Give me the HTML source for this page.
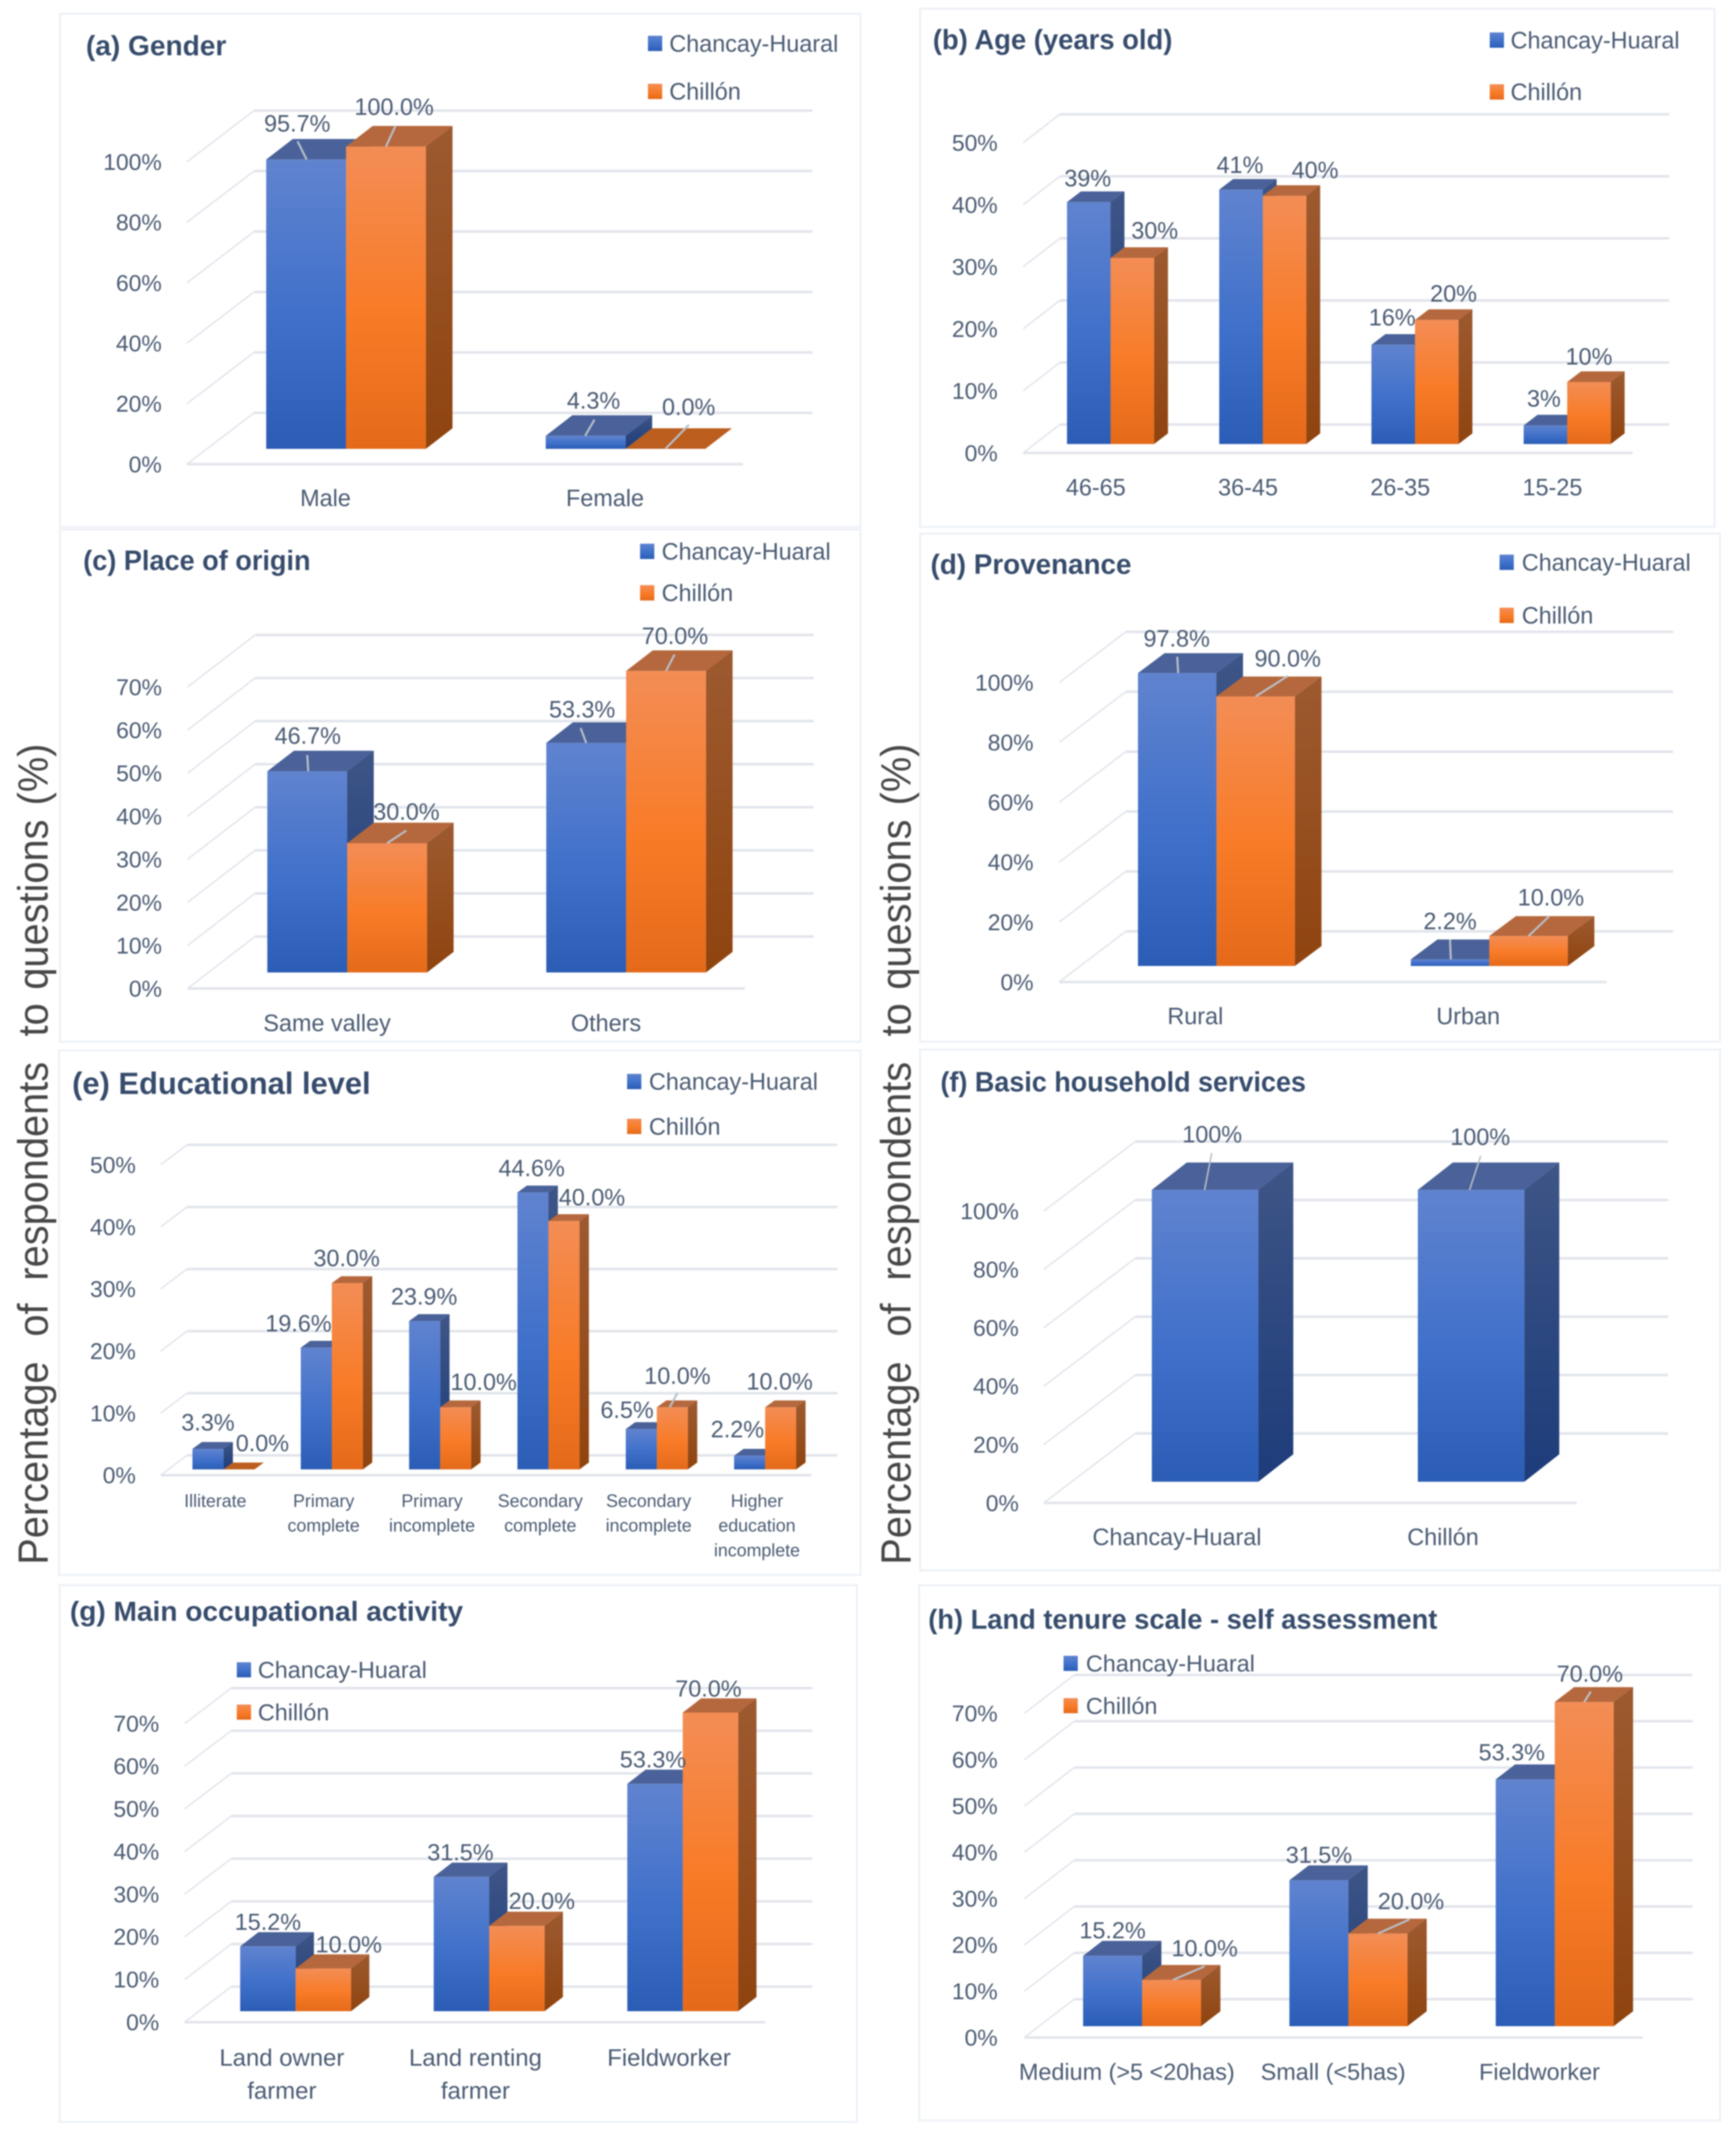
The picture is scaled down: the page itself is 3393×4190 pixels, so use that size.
<!DOCTYPE html>
<html lang="en">
<head>
<meta charset="utf-8">
<title>Survey respondents profile charts</title>
<style>
html,body{margin:0;padding:0;background:#fff;}
svg{display:block;}
text{font-family:"Liberation Sans",sans-serif;}
</style>
</head>
<body>
<svg id="figure" xmlns="http://www.w3.org/2000/svg" width="3393" height="4190" viewBox="0 0 3393 4190">
  <defs>
    <linearGradient id="blueFront" x1="0" y1="0" x2="0" y2="1"><stop offset="0" stop-color="#6083cf"/><stop offset="0.55" stop-color="#3f70ca"/><stop offset="1" stop-color="#2b5db6"/></linearGradient>
    <linearGradient id="orangeFront" x1="0" y1="0" x2="0" y2="1"><stop offset="0" stop-color="#f38d55"/><stop offset="0.55" stop-color="#f87b27"/><stop offset="1" stop-color="#e46a1a"/></linearGradient>
    <linearGradient id="blueSide" x1="0" y1="0" x2="0" y2="1"><stop offset="0" stop-color="#3e5586"/><stop offset="1" stop-color="#1d3c7a"/></linearGradient>
    <linearGradient id="orangeSide" x1="0" y1="0" x2="0" y2="1"><stop offset="0" stop-color="#9d5a30"/><stop offset="1" stop-color="#8f440f"/></linearGradient>
    <filter id="soften" filterUnits="userSpaceOnUse" x="0" y="0" width="3393" height="4190" color-interpolation-filters="sRGB"><feGaussianBlur stdDeviation="1.3"/></filter>
  </defs>
  <g filter="url(#soften)">
    <rect x="0" y="0" width="3393" height="4190" fill="#ffffff"/>
    <g id="charts"></g>
    <text transform="translate(93,3058) rotate(-90) scale(1,1.06)" font-size="77.7" fill="#484848">Percentage <tspan dx="27">of</tspan> <tspan dx="23">respondents</tspan> <tspan dx="28">to</tspan> <tspan dx="5">questions</tspan> <tspan dx="6">(%)</tspan></text>
    <text transform="translate(1779.5,3058) rotate(-90) scale(1,1.06)" font-size="77.7" fill="#484848">Percentage <tspan dx="27">of</tspan> <tspan dx="23">respondents</tspan> <tspan dx="28">to</tspan> <tspan dx="5">questions</tspan> <tspan dx="6">(%)</tspan></text>
  </g>
</svg>
<script>
// ---- chart data ----
const categoriesA = ['Male', 'Female'];
const chancayA = [95.7, 4.3];
const chillonA = [100, 0];
const ticksA = [0, 20, 40, 60, 80, 100];

const categoriesB = ['46-65', '36-45', '26-35', '15-25'];
const chancayB = [39, 41, 16, 3];
const chillonB = [30, 40, 20, 10];
const ticksB = [0, 10, 20, 30, 40, 50];

const categoriesC = ['Same valley', 'Others'];
const chancayC = [46.7, 53.3];
const chillonC = [30, 70];
const ticksC = [0, 10, 20, 30, 40, 50, 60, 70];

const categoriesD = ['Rural', 'Urban'];
const chancayD = [97.8, 2.2];
const chillonD = [90, 10];
const ticksD = [0, 20, 40, 60, 80, 100];

const categoriesE = ['Illiterate', 'Primary\ncomplete', 'Primary\nincomplete', 'Secondary\ncomplete', 'Secondary\nincomplete', 'Higher\neducation\nincomplete'];
const chancayE = [3.3, 19.6, 23.9, 44.6, 6.5, 2.2];
const chillonE = [0, 30, 10, 40, 10, 10];
const ticksE = [0, 10, 20, 30, 40, 50];

const categoriesF = ['Chancay-Huaral', 'Chillón'];
const valuesF = [100, 100];
const ticksF = [0, 20, 40, 60, 80, 100];

const categoriesG = ['Land owner\nfarmer', 'Land renting\nfarmer', 'Fieldworker'];
const chancayG = [15.2, 31.5, 53.3];
const chillonG = [10, 20, 70];
const ticksG = [0, 10, 20, 30, 40, 50, 60, 70];

const categoriesH = ['Medium (>5 <20has)', 'Small (<5has)', 'Fieldworker'];
const chancayH = [15.2, 31.5, 53.3];
const chillonH = [10, 20, 70];
const ticksH = [0, 10, 20, 30, 40, 50, 60, 70];

// ---- panel definitions (data references plus layout) ----
// fit = [originX, originY, scaleX, scaleY]: fine calibration of each panel's layout box
const panels = [
  {id:'a', title:'(a) Gender', titleX:169, titleY:89, titleW:276, titleSize:55, fit:[0,0,0.99404,0.99791],
   categories:categoriesA, series:[chancayA, chillonA], ticks:ticksA, decimals:1,
   card:[118,27,1692,1032], wallBase:808.6, floorY:909, barBase:879, unit:5.92,
   wallX:499.5, gridRight:1597.6, floorX:367.5, floorRight:1461,
   x0:523.4, step:549.6, barW:157, depthX:52.3, depthY:40.3, tickRight:318, catOffset:116.6, catY:975, catSize:46, catLine:0,
   legend:{swatchX:1274, textX:1316, rows:[85,179]},
   nudges:[[[-17.5,-71,1,-17,-36],[15.5,-69.5,-1,17.5,-32]],[[16,-78,0,18.5,-40],[45.5,-82.5,0,46,-47]]]},
  {id:'b', title:'(b) Age (years old)', titleX:1824, titleY:77, titleW:471, titleSize:55, fit:[1693,0,0.99404,0.99791],
   categories:categoriesB, series:[chancayB, chillonB], ticks:ticksB, decimals:0,
   card:[1799,17,3361,1032], wallBase:831.4, floorY:887, barBase:869.6, unit:12.15,
   wallX:2073.6, gridRight:3272, floorX:2001.6, floorRight:3200,
   x0:2087.8, step:299.3, barW:85.6, depthX:27.3, depthY:20.8, tickRight:1951.5, catOffset:56.6, catY:954, catSize:46, catLine:0,
   legend:{swatchX:2919, textX:2960, rows:[78.5,180]},
   nudges:[[[-2,-47],[-2,-49],[-2,-54],[-3,-53]],[[44,-54],[60,-51],[33,-52],[0,-50]]]},
  {id:'c', title:'(c) Place of origin', titleX:163.6, titleY:1095, titleW:447, titleSize:55, fit:[0,1030,0.99404,0.99791],
   categories:categoriesC, series:[chancayC, chillonC], ticks:ticksC, decimals:1,
   card:[118,1035,1692,2038], wallBase:1831.8, floorY:1933.8, barBase:1902.3, unit:8.435,
   wallX:501.6, gridRight:1600, floorX:368.6, floorRight:1464.5,
   x0:525.6, step:548.5, barW:157, depthX:52.3, depthY:40.3, tickRight:318.4, catOffset:117.5, catY:2001, catSize:46, catLine:0,
   legend:{swatchX:1258.5, textX:1301, rows:[1077.6,1158.8]},
   nudges:[[[1,-70,2,0,-32],[-8,-66,0,-11,-29]],[[38,-62,0,38,-25],[17.5,-69,0,16.6,-32]]]},
  {id:'d', title:'(d) Provenance', titleX:1819.5, titleY:1102.5, titleW:395, titleSize:55, fit:[1693,1030,0.99404,0.99791],
   categories:categoriesD, series:[chancayD, chillonD], ticks:ticksD, decimals:1,
   card:[1799,1043,3372,2038], wallBase:1821.8, floorY:1921, barBase:1889.6, unit:5.865,
   wallX:2203.4, gridRight:3279.7, floorX:2072.5, floorRight:3148.8,
   x0:2227.3, step:536.5, barW:154.3, depthX:52.3, depthY:39, tickRight:2022, catOffset:112.8, catY:1987.5, catSize:46, catLine:0,
   legend:{swatchX:2938.3, textX:2982, rows:[1099,1203]},
   nudges:[[[-1,-68,2,0,-32],[0,-75,1.5,0,-39]],[[63,-75,0,63,-40],[44,-76,0,41,-39]]]},
  {id:'e', title:'(e) Educational level', titleX:141.8, titleY:2117, titleW:587, titleSize:60, fit:[0,2050,0.99404,0.99791],
   categories:categoriesE, series:[chancayE, chillonE], ticks:ticksE, decimals:1,
   card:[116,2053,1692,3080], wallBase:2845.8, floorY:2884.7, barBase:2873.3, unit:12.16,
   wallX:367.5, gridRight:1646.7, floorX:316.2, floorRight:1595.4,
   x0:378.4, step:213, barW:61, depthX:18.5, depthY:13.4, tickRight:267, catOffset:45, catY:2934.4, catSize:35, catLine:48.5,
   legend:{swatchX:1233, textX:1276, rows:[2113.7,2201.6]},
   nudges:[[[0,-52],[-35,-48],[-1,-48],[-2.6,-48],[-28,-38],[-24,-52]],[[46,-52],[-1.4,-49],[55,-50],[55,-47],[10,-62,-5,10,-28],[-2,-51]]]},
  {id:'f', title:'(f) Basic household services', titleX:1839, titleY:2113.7, titleW:718.6, titleSize:55, fit:[1693,2050,0.99404,0.99791],
   categories:categoriesF, series:[valuesF], ticks:ticksF, decimals:0,
   card:[1799,2051,3372,3071], wallBase:2802.9, floorY:2939, barBase:2897.5, unit:5.715,
   wallX:2222, gridRight:3270, floorX:2042, floorRight:3090,
   x0:2254.6, step:523, barW:209.4, depthX:68.7, depthY:53.7, tickRight:1993, catOffset:49.5, catY:3005.5, catSize:46, catLine:0,
   leaderWidth:3,
   nudges:[[[14,-109,-1,13,-72],[18,-104,-3,19,-67]]]},
  {id:'g', title:'(g) Main occupational activity', titleX:137.4, titleY:3149.4, titleW:773, titleSize:55, fit:[0,3100,0.99404,0.98484],
   categories:categoriesG, series:[chancayG, chillonG], ticks:ticksG, decimals:1,
   card:[117,3098,1685,4163], wallBase:3894.6, floorY:3965, barBase:3943.3, unit:8.465,
   wallX:454.7, gridRight:1597.6, floorX:363, floorRight:1505,
   x0:472.2, step:380.6, barW:109, depthX:36, depthY:28.2, tickRight:313, catOffset:82, catY:4035, catSize:47, catLine:65.7,
   legend:{swatchX:465.6, textX:507, rows:[3265.8,3349.8]},
   nudges:[[[0,-49],[-2,-49],[-4,-49]],[[50,-48],[49,-50],[-4,-48]]]},
  {id:'h', title:'(h) Land tenure scale - self assessment', titleX:1815, titleY:3165, titleW:1001, titleSize:55, fit:[1693,3100,0.99404,0.98484],
   categories:categoriesH, series:[chancayH, chillonH], ticks:ticksH, decimals:1,
   card:[1797,3098,3372,4160], wallBase:3919.3, floorY:3995.5, barBase:3973, unit:9.19,
   wallX:2102, gridRight:3318, floorX:2004, floorRight:3220,
   x0:2119.4, step:405.7, barW:116, depthX:38, depthY:29.6, tickRight:1951.5, catOffset:86, catY:4063, catSize:46, catLine:0,
   legend:{swatchX:2081, textX:2125, rows:[3253,3337]},
   nudges:[[[0,-51],[0,-50.6],[-26.5,-54]],[[65,-63,3,65,-27],[65,-64.5,0,62,-28],[11,-56.5,0,13,-21]]]}
];

const seriesNames = ['Chancay-Huaral', 'Chillón'];
const seriesKeys = ['chancay-huaral', 'chillon'];
const palette = [
  {front:'url(#blueFront)', side:'url(#blueSide)', top:'#4a6299', flatTop:'#3f62a8'},
  {front:'url(#orangeFront)', side:'url(#orangeSide)', top:'#b5683d', flatTop:'#bb5e1e'}
];
const TEXT_COLOR = '#4a5b73';
const TITLE_COLOR = '#374c6c';
const GRID_COLOR = '#e2e5ec';

const NS = 'http://www.w3.org/2000/svg';
function make(tag, parent, props) {
  const el = document.createElementNS(NS, tag);
  for (const k in props) el.setAttribute(k, props[k]);
  parent.appendChild(el);
  return el;
}
function addText(parent, str, x, yc, size, anchor, fill, weight) {
  const el = make('text', parent, {x:x, y:yc + size * 0.35, 'font-size':size, 'text-anchor':anchor, fill:fill, 'font-weight':weight || 'normal'});
  el.textContent = str;
  return el;
}
function pts(list) { return list.map(p => p[0].toFixed(2) + ',' + p[1].toFixed(2)).join(' '); }

function drawPanel(p, root) {
  const wallY = v => p.wallBase - v * p.unit;
  const floorTickY = v => p.floorY - v * p.unit;
  const barY = v => p.barBase - v * p.unit;
  const groupX = i => p.x0 + p.step * i;

  const f = p.fit;
  const g = make('g', root, {transform:'translate(' + f[0] + ' ' + f[1] + ') scale(' + f[2] + ' ' + f[3] + ') translate(' + (-f[0]) + ' ' + (-f[1]) + ')'});
  
  

  const card = make('rect', g, {x:p.card[0], y:p.card[1], width:p.card[2]-p.card[0], height:p.card[3]-p.card[1], fill:'#ffffff', stroke:'#edf1f6', 'stroke-width':4});
  
  

  const title = addText(g, p.title, p.titleX, p.titleY, p.titleSize, 'start', TITLE_COLOR, 'bold');
  title.setAttribute('textLength', p.titleW);
  title.setAttribute('lengthAdjust', 'spacingAndGlyphs');
  
  

  // gridlines and tick labels
  const wallOffsetY = p.floorY - p.wallBase;
  p.ticks.forEach(v => {
    const y = wallY(v);
    const line = make('line', g, {x1:p.wallX, y1:y, x2:p.gridRight, y2:y, stroke:GRID_COLOR, 'stroke-width':5});
    
    
    const diag = make('line', g, {x1:p.wallX, y1:y, x2:p.floorX, y2:y + wallOffsetY, stroke:GRID_COLOR, 'stroke-width':3});
    
    
    const tick = addText(g, v + '%', p.tickRight, floorTickY(v), 45, 'end', TEXT_COLOR);
    
    
  });
  const floor = make('line', g, {x1:p.floorX, y1:p.floorY, x2:p.floorRight, y2:p.floorY, stroke:GRID_COLOR, 'stroke-width':5});
  
  

  // bars
  const labelLayer = [];
  p.categories.forEach((cat, i) => {
    p.series.forEach((values, s) => {
      const v = values[i];
      const x = groupX(i) + s * p.barW;
      const w = p.barW, dx = p.depthX, dy = p.depthY;
      const top = barY(v), base = p.barBase;
      const colors = palette[s];
      const bar = make('g', g, {});
      
      
      const topFace = make('polygon', bar, {points:pts([[x,top],[x+w,top],[x+w+dx,top-dy],[x+dx,top-dy]]), fill:(v === 0 ? colors.flatTop : colors.top)});
      
      
      const sideFace = make('polygon', bar, {points:pts([[x+w,top],[x+w+dx,top-dy],[x+w+dx,base-dy],[x+w,base]]), fill:colors.side});
      
      
      if (base - top > 0) {
        const front = make('rect', bar, {x:x, y:top, width:w, height:base-top, fill:colors.front});
        
        
      }
      labelLayer.push({v:v, cx:x + w/2, top:top, n:p.nudges[s][i]});
    });
    // category label
    const lines = cat.split('\n');
    const catLabel = make('g', g, {});
    
    
    lines.forEach((ln, k) => {
      const t = addText(catLabel, ln, groupX(i) + p.catOffset, p.catY + k * p.catLine, p.catSize, 'middle', TEXT_COLOR);
      
      
    });
  });

  // data labels and leader lines sit above every bar
  labelLayer.forEach(d => {
    const n = d.n;
    if (n.length > 2) {
      const leader = make('line', g, {x1:d.cx+n[2], y1:d.top, x2:d.cx+n[3], y2:d.top+n[4], stroke:'#b9c0ca', 'stroke-width':p.leaderWidth || 4});
      
      
    }
    const lab = addText(g, d.v.toFixed(p.decimals) + '%', d.cx + n[0], d.top + n[1], 46, 'middle', TEXT_COLOR);
    
    
  });

  // legend
  if (p.legend) {
    seriesNames.forEach((name, s) => {
      const y = p.legend.rows[s];
      const entry = make('g', g, {});
      
      
      const sw = make('rect', entry, {x:p.legend.swatchX, y:y-15, width:28, height:30, fill:palette[s].front});
      
      
      const t = addText(entry, name, p.legend.textX, y, 46, 'start', TEXT_COLOR);
      
      
    });
  }
}

const chartsRoot = document.getElementById('charts');
panels.forEach(p => drawPanel(p, chartsRoot));
</script>
</body>
</html>
